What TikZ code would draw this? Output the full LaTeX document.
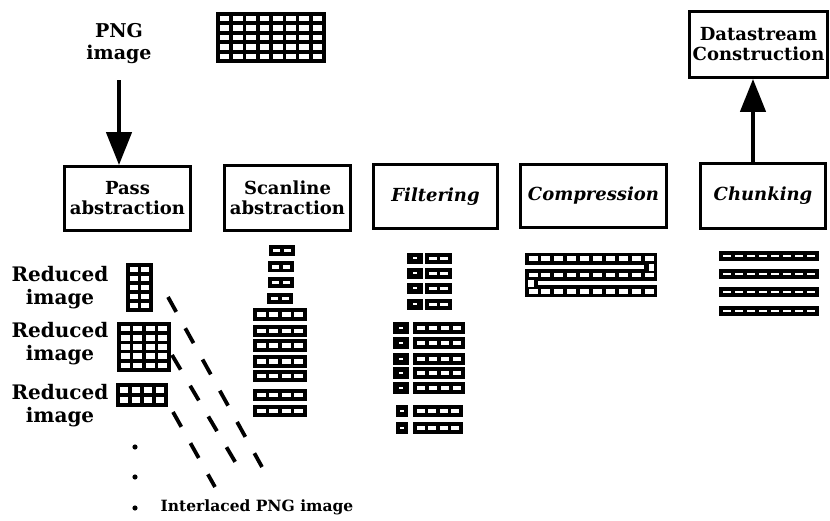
\documentclass[tikz,border=0pt]{standalone}
\usepackage{fontspec}
\setmainfont{DejaVu Serif}
\usetikzlibrary{arrows.meta}
\def\cgb{1.8}
% cell grid: x, y (top-left), cols, rows, width, height
\newcommand{\cgrid}[6]{%
  \fill[black] (#1,#2) rectangle ++(#5,#6);
  \pgfmathsetmacro{\cgpw}{(#5-2*\cgb)/#3}%
  \pgfmathsetmacro{\cgph}{(#6-2*\cgb)/#4}%
  \foreach \ci in {1,...,#3}{\foreach \ri in {1,...,#4}{
    \fill[white] ({#1+2*\cgb+(\ci-1)*\cgpw},{#2+2*\cgb+(\ri-1)*\cgph}) rectangle ++({\cgpw-2*\cgb},{\cgph-2*\cgb});
  }}%
}
% filter byte: x, y, width, height
\newcommand{\fbyte}[4]{%
  \fill[black] (#1,#2) rectangle ++(#3,#4);
  \fill[white] ({#1+#3/2-2},{#2+#4/2-1}) rectangle ++(4,2);
}
\begin{document}
\begin{tikzpicture}[x=1pt,y=-1pt,
  stage/.style={draw, line width=2.8pt, align=center, inner sep=0pt,
    font=\fontsize{18}{20}\selectfont\bfseries},
  stagei/.style={stage, font=\fontsize{18}{20}\selectfont\bfseries\itshape},
  lbl/.style={align=center, inner sep=0pt, font=\fontsize{20}{23}\selectfont\bfseries},
  bigarrow/.style={line width=4.5pt, -{Triangle[width=25pt,length=33pt]}},
  dashline/.style={line width=3.8pt, dash pattern=on 17pt off 18.7pt}]
\useasboundingbox (0,0) rectangle (830,521);

% labels
\node[lbl, font=\fontsize{19}{22}\selectfont\bfseries] (png) at (119,44) {PNG\\image};
\node[lbl] (r1) at (60,288) {Reduced\\image};
\node[lbl] (r2) at (60,344) {Reduced\\image};
\node[lbl] (r3) at (60,406) {Reduced\\image};
\node[lbl, font=\fontsize{15.5}{20}\selectfont\bfseries] (ipng) at (257,507) {Interlaced PNG image};

% stage boxes
\node[stage, minimum width=126pt, minimum height=64pt] (pass) at (127.5,198.5) {Pass\\abstraction};
\node[stage, minimum width=126pt, minimum height=65pt] (scan) at (287.5,198) {Scanline\\abstraction};
\node[stagei, minimum width=124pt, minimum height=64pt] (filt) at (435.5,196.5) {Filtering};
\node[stagei, minimum width=146pt, minimum height=63pt] (comp) at (593.5,196) {Compression};
\node[stagei, minimum width=125pt, minimum height=65pt] (chunk) at (763,196) {Chunking};
\node[stage, minimum width=138pt, minimum height=66pt] (data) at (758.5,44.5) {Datastream\\Construction};

% arrows
\draw[bigarrow, shorten <=16pt] (png) -- (png |- pass.north);
\draw[bigarrow] ([xshift=-10pt]chunk.north) -- ([xshift=-10pt]chunk.north |- data.south);

% top image
\cgrid{216}{12}{8}{5}{110}{51}

% pass abstraction reduced images
\cgrid{126}{263}{2}{5}{27}{49}
\cgrid{117}{322}{4}{5}{54}{50}
\cgrid{116}{383}{4}{2}{52}{24}

% scanlines
\cgrid{269}{245}{2}{1}{26}{11}
\cgrid{268}{261.5}{2}{1}{26}{11}
\cgrid{268}{277}{2}{1}{26}{11}
\cgrid{267}{293}{2}{1}{26}{11}
\cgrid{253}{308}{4}{1}{54}{13}
\cgrid{253}{325}{4}{1}{54}{12}
\cgrid{253}{339}{4}{1}{54}{12.5}
\cgrid{253}{355}{4}{1}{54}{13}
\cgrid{253}{370}{4}{1}{54}{12}
\cgrid{253}{389}{4}{1}{54}{11.5}
\cgrid{253}{405}{4}{1}{54}{12}

% filtering
\foreach \yy in {253,268,283,299}{
  \fbyte{407}{\yy}{16}{11}
  \cgrid{425}{\yy}{2}{1}{27}{11}
}
\foreach \yy in {322,337,353,367,382}{
  \fbyte{393}{\yy}{16}{12}
  \cgrid{413}{\yy}{4}{1}{52}{12}
}
\foreach \yy in {405,422}{
  \fbyte{396}{\yy}{12}{11.5}
  \cgrid{413}{\yy}{4}{1}{50}{11.5}
}

% compression (serpentine stream)
\fill[black] (525,253) rectangle (657,297);
\fill[white] (523,265.5) rectangle (644,269.5);
\fill[white] (538,281.5) rectangle (659,285.5);
\foreach \i in {0,...,9}{
  \fill[white] ({528.5+\i*12.9},256.5) rectangle ++(9,5);
  \fill[white] ({528.5+\i*12.9},273) rectangle ++(9,4.5);
  \fill[white] ({528.5+\i*12.9},289) rectangle ++(9,5);
}
\fill[white] (649,264) rectangle (654,271);
\fill[white] (528,280) rectangle (534,287);

% chunking
\foreach \yy in {251,269,287,306}{
  \cgrid{719}{\yy}{8}{1}{100}{10}
}

% dashed interlace lines
\coordinate (l1s) at (168,297); \coordinate (l1e) at (262,467);
\coordinate (l2s) at (172,355); \coordinate (l2e) at (237,465);
\coordinate (l3s) at (173,412); \coordinate (l3e) at (215,487);
\draw[dashline] (l1s) -- (l1e);
\draw[dashline] (l2s) -- (l2e);
\draw[dashline] (l3s) -- (l3e);

% dots
\fill (135,447) circle (2.6);
\fill (135,477) circle (2.6);
\fill (135,508) circle (2.6);
\end{tikzpicture}
\end{document}
